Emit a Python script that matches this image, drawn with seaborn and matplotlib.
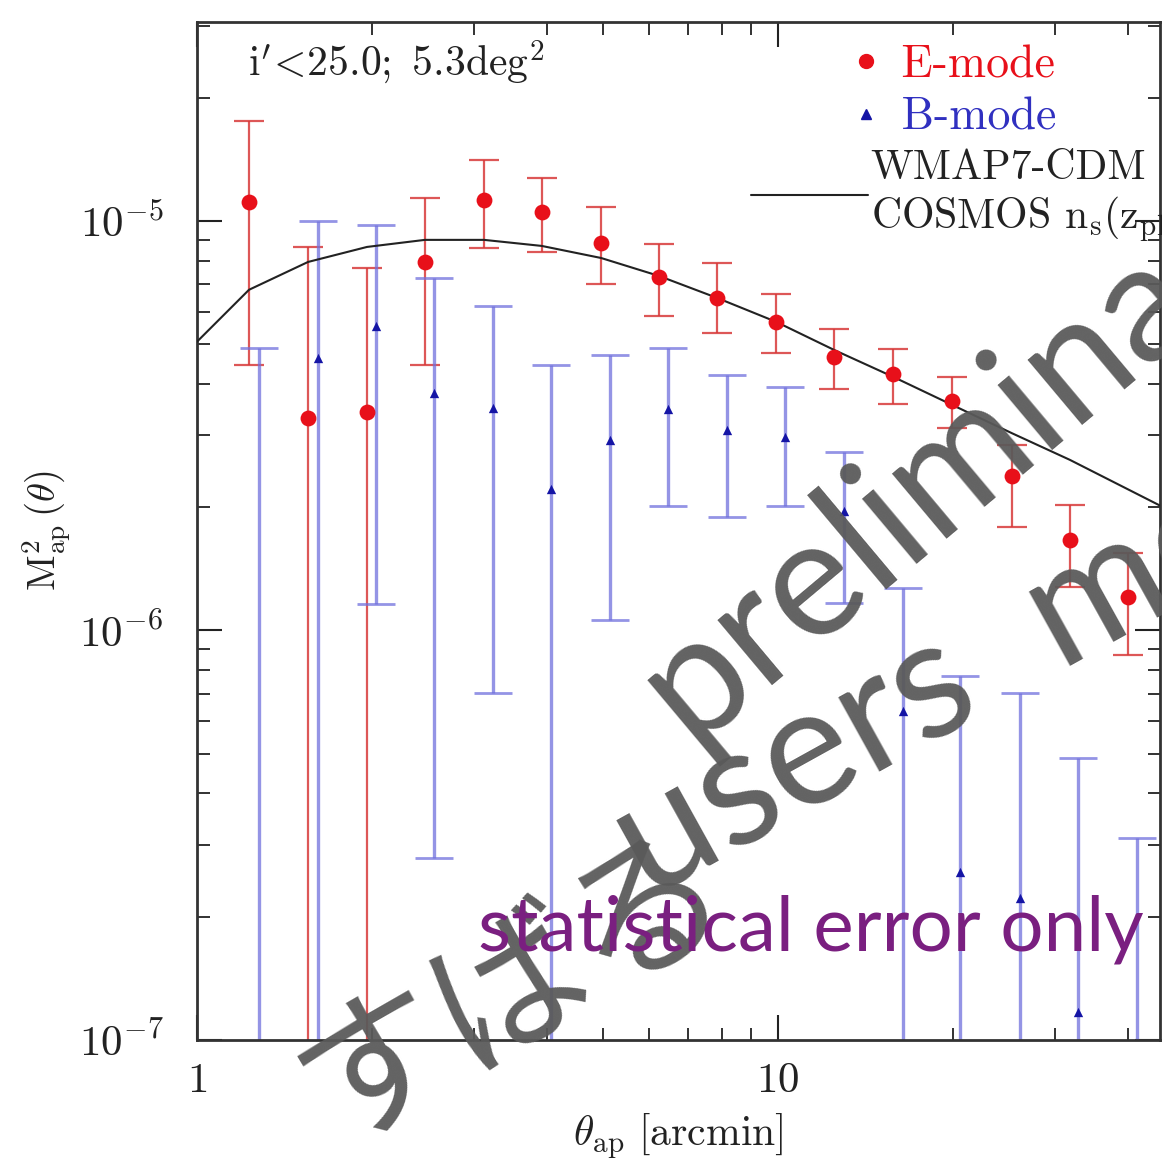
import numpy as np
import seaborn as sns
import matplotlib.pyplot as plt
from matplotlib.lines import Line2D
from matplotlib.legend_handler import HandlerLine2D
from matplotlib.ticker import LogLocator, FuncFormatter, NullFormatter

# aperture mass data
theta_e = [1.23, 1.55, 1.96, 2.47, 3.12, 3.92, 4.96, 6.24, 7.85, 9.93, 12.5, 15.8, 19.9, 25.3, 31.8, 40.0]
e_mode = [1.11e-5, 3.3e-6, 3.42e-6, 7.94e-6, 1.125e-5, 1.05e-5, 8.84e-6, 7.3e-6,
          6.49e-6, 5.67e-6, 4.66e-6, 4.23e-6, 3.63e-6, 2.38e-6, 1.66e-6, 1.21e-6]
e_hi = [1.75e-5, 8.64e-6, 7.67e-6, 1.14e-5, 1.41e-5, 1.27e-5, 1.08e-5, 8.8e-6,
        7.9e-6, 6.64e-6, 5.44e-6, 4.87e-6, 4.16e-6, 2.84e-6, 2.02e-6, 1.55e-6]
e_lo = [4.45e-6, 1e-8, 1e-8, 4.45e-6, 8.6e-6, 8.4e-6, 7.0e-6, 5.86e-6,
        5.33e-6, 4.76e-6, 3.89e-6, 3.57e-6, 3.13e-6, 1.79e-6, 1.28e-6, 8.7e-7]

theta_b = [1.28, 1.615, 2.03, 2.56, 3.23, 4.06, 5.14, 6.47, 8.17, 10.3, 13.0, 16.4, 20.6, 26.1, 32.8, 41.5]
b_mode = [5e-8, 4.63e-6, 5.55e-6, 3.8e-6, 3.49e-6, 2.22e-6, 2.92e-6, 3.47e-6,
          3.09e-6, 2.97e-6, 1.96e-6, 6.35e-7, 2.57e-7, 2.22e-7, 1.17e-7, 5e-8]
b_hi = [4.9e-6, 1.0e-5, 9.8e-6, 7.26e-6, 6.2e-6, 4.45e-6, 4.71e-6, 4.9e-6,
        4.2e-6, 3.93e-6, 2.73e-6, 1.27e-6, 7.74e-7, 7.03e-7, 4.89e-7, 3.11e-7]
b_lo = [1e-8, 1e-8, 1.16e-6, 2.78e-7, 7.03e-7, 1e-8, 1.06e-6, 2.01e-6,
        1.89e-6, 2.01e-6, 1.17e-6, 1e-8, 1e-8, 1e-8, 1e-8, 1e-8]

# WMAP7 model curve
theta_model = [1.0, 1.229, 1.553, 1.962, 2.468, 3.12, 3.92, 4.96, 6.24, 7.85, 9.93,
               12.5, 15.8, 19.9, 25.3, 31.8, 45.4]
m_model = [5.07e-6, 6.79e-6, 7.94e-6, 8.64e-6, 8.99e-6, 8.99e-6, 8.69e-6, 8.12e-6, 7.34e-6,
           6.49e-6, 5.67e-6, 4.84e-6, 4.16e-6, 3.56e-6, 3.03e-6, 2.61e-6, 2.02e-6]

RED = '#e8101a'
BLUE = '#1515a5'

sns.set_theme(style='ticks')
plt.rcParams['mathtext.fontset'] = 'cm'
plt.rcParams['font.family'] = ['DejaVu Serif']

fig = plt.figure(figsize=(11.62, 11.65), dpi=100)
ax = fig.add_axes([0.1695, 0.1073, 0.8285, 0.8738])
ax.set_xscale('log')
ax.set_yscale('log')

e_err = [np.array(e_mode) - np.array(e_lo), np.array(e_hi) - np.array(e_mode)]
b_err = [np.array(b_mode) - np.array(b_lo), np.array(b_hi) - np.array(b_mode)]
ax.errorbar(theta_e, e_mode, yerr=e_err, fmt='none', ecolor='#d83a3a', elinewidth=1.6,
            capsize=11, capthick=1.6, alpha=0.85, zorder=2)
ax.errorbar(theta_b, b_mode, yerr=b_err, fmt='none', ecolor='#7070dd', elinewidth=2.4,
            capsize=14, capthick=2.0, alpha=0.75, zorder=2)

sns.lineplot(x=theta_model, y=m_model, ax=ax, color='#222222', lw=1.5, zorder=3)
sns.scatterplot(x=theta_e, y=e_mode, ax=ax, marker='o', s=130, color=RED,
                edgecolor=RED, linewidth=0, zorder=4)
sns.scatterplot(x=theta_b, y=b_mode, ax=ax, marker='^', s=45, color=BLUE,
                edgecolor=BLUE, linewidth=0, zorder=4)

ax.set_xlim(1, 45.4)
ax.set_ylim(1e-7, 3.06e-5)

ax.xaxis.set_major_locator(LogLocator(base=10))
ax.xaxis.set_minor_locator(LogLocator(base=10, subs=np.arange(2, 10)))
ax.xaxis.set_major_formatter(FuncFormatter(lambda v, p: r'$%g$' % v))
ax.xaxis.set_minor_formatter(NullFormatter())
ax.yaxis.set_major_locator(LogLocator(base=10))
ax.yaxis.set_minor_locator(LogLocator(base=10, subs=np.arange(2, 10)))
ax.yaxis.set_major_formatter(FuncFormatter(lambda v, p: r'$10^{%d}$' % round(np.log10(v))))
ax.yaxis.set_minor_formatter(NullFormatter())

ax.tick_params(which='both', direction='in', top=True, right=True, color='#222222',
               labelsize=31, labelcolor='#222222')
ax.tick_params(which='major', length=18, width=1.5, pad=14)
ax.tick_params(axis='y', which='major', pad=24)
ax.tick_params(which='minor', length=9, width=1.3)
for s in ax.spines.values():
    s.set_linewidth(2.0)
    s.set_color('#333333')

ax.set_xlabel(r'$\theta_{\mathrm{ap}}\ [\mathrm{arcmin}]$', fontsize=30, labelpad=7,
              color='#222222')
ax.set_ylabel(r'$\mathrm{M}^2_{\mathrm{ap}}\,(\theta)$', fontsize=28, labelpad=4,
              color='#222222')

ax.text(0.053, 0.948, r"$\mathrm{i}'\!<\!25.0;\ 5.3\mathrm{deg}^2$", transform=ax.transAxes,
        fontsize=30, color='#222222', va='baseline', ha='left')


class RightMarker(HandlerLine2D):
    # put the single legend marker at the right end of the handle box
    def get_xdata(self, legend, xdescent, ydescent, width, height, fontsize):
        x0 = -xdescent + width - 0.05 * fontsize
        return [x0 - 0.5, x0 + 0.5], [x0]


h_e = Line2D([], [], marker='o', ls='none', color=RED, markersize=10)
h_b = Line2D([], [], marker='^', ls='none', color=BLUE, markersize=7)
h_m = Line2D([], [], color='#222222', lw=1.5)
leg = ax.legend([h_e, h_b, h_m],
                ['  E-mode', '  B-mode', 'WMAP7-CDM\nCOSMOS $\\mathrm{n_s(z_{phot})}$'],
                handler_map={h_e: RightMarker(), h_b: RightMarker()},
                labelcolor=[RED, '#3030c0', '#222222'], prop={'family': 'cmr10', 'size': 33},
                loc='upper left', bbox_to_anchor=(0.576, 0.978), frameon=False,
                handlelength=2.55, handletextpad=0.05, labelspacing=0.24,
                borderpad=0, borderaxespad=0)
leg.get_texts()[2].set_fontsize(30)

# overlay watermarks
wm = dict(ha='left', va='baseline', rotation_mode='anchor', color='#5a5a5a', alpha=0.95,
          zorder=10)
fig.text(690 / 1162, 1 - 745 / 1165, 'preliminary', rotation=40, fontsize=120,
         family=['Lato', 'DejaVu Sans'], **wm)
fig.text(333 / 1162, 1 - 1145 / 1165, 'すばる', rotation=30, fontsize=112,
         family=['Noto Sans CJK JP'], **wm)
fig.text(648 / 1162, 1 - 900 / 1165, 'users  meeting', rotation=29, fontsize=120,
         family=['Lato', 'DejaVu Sans'], **wm)
fig.text(478 / 1162, 1 - 950 / 1165, 'statistical error only', ha='left', va='baseline',
         fontsize=55, color='#7a1f80', family=['Lato', 'DejaVu Sans'], zorder=11)

fig.savefig('out.png', dpi=100)
